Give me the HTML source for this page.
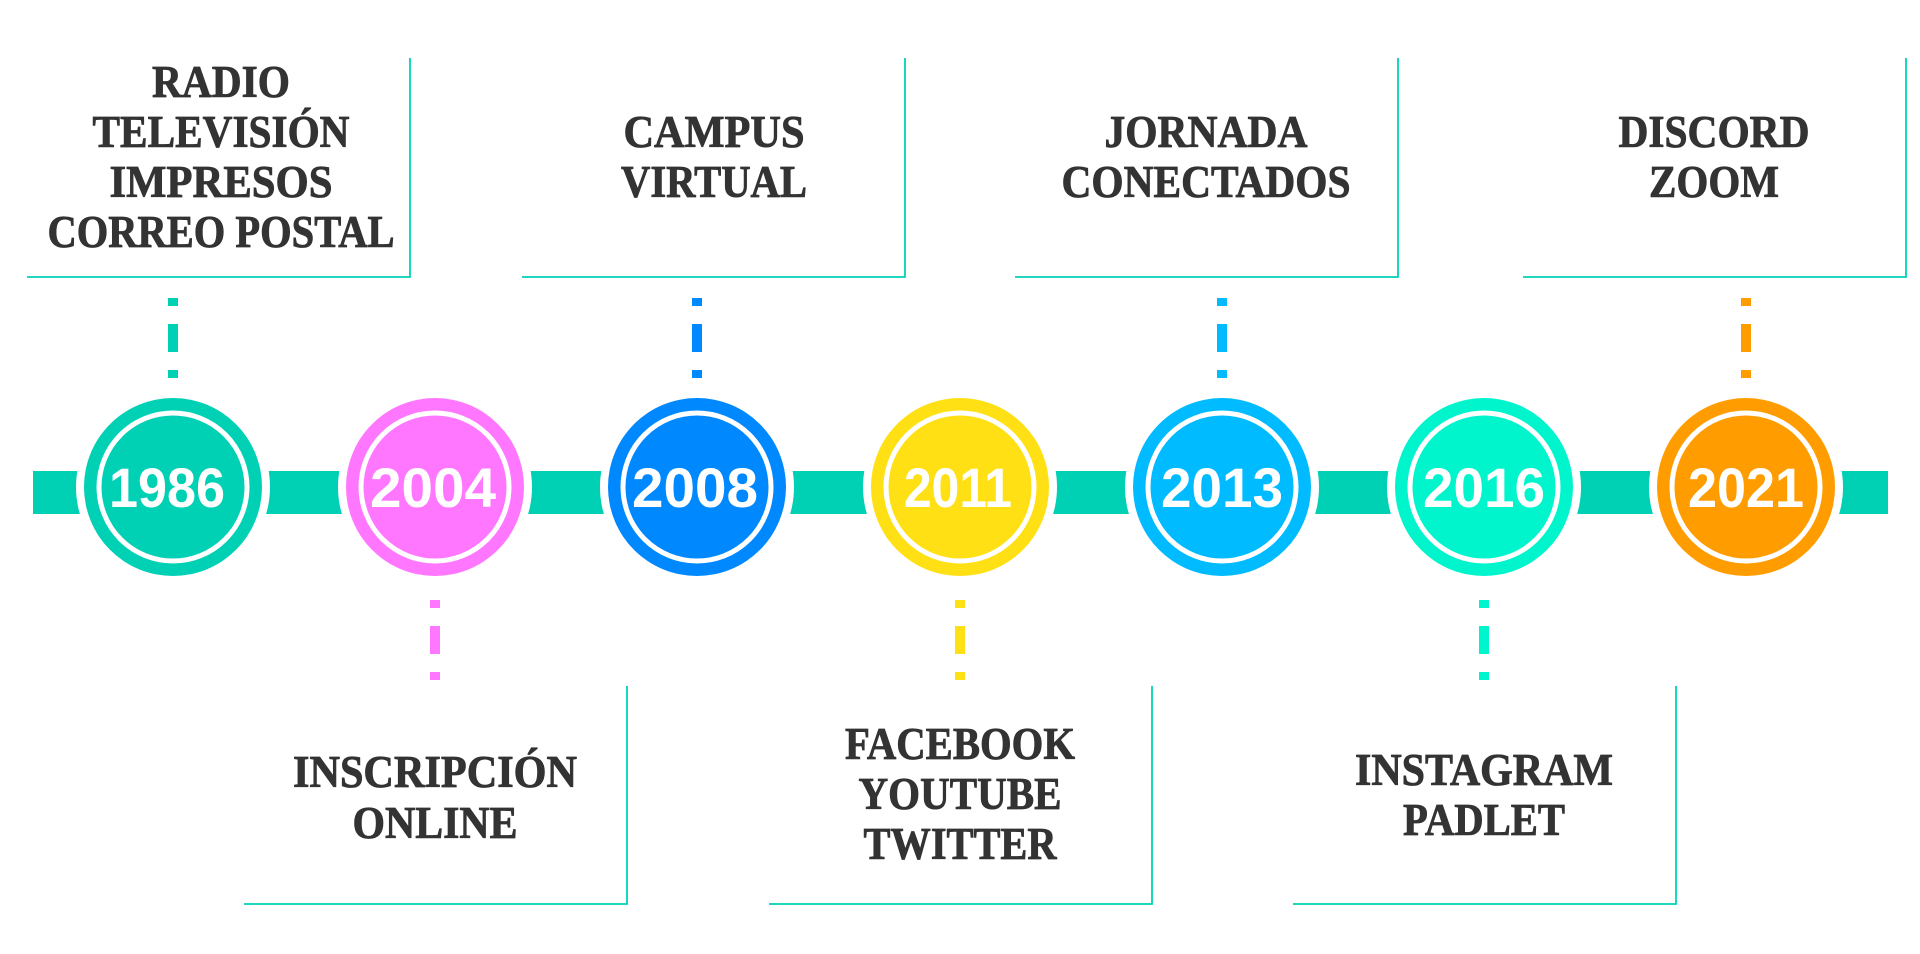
<!DOCTYPE html>
<html><head><meta charset="utf-8"><style>html,body{margin:0;padding:0;background:#fff}svg{display:block}</style></head>
<body>
<svg width="1920" height="954" viewBox="0 0 1920 954" xmlns="http://www.w3.org/2000/svg">
<rect x="33" y="471" width="1855" height="43" fill="#00d1b5"/>
<g fill="none" stroke="#00d1b5" stroke-width="1.8">
<polyline points="27,277 410,277 410,58"/>
<polyline points="522,277 905,277 905,58"/>
<polyline points="1015,277 1398,277 1398,58"/>
<polyline points="1523,277 1906,277 1906,58"/>
<polyline points="244,904 627,904 627,686"/>
<polyline points="769,904 1152,904 1152,686"/>
<polyline points="1293,904 1676,904 1676,686"/>
</g>
<g stroke-width="10" stroke-dasharray="8 18 28 18 8 100">
<line x1="173" y1="298" x2="173" y2="381" stroke="#00d1b5"/>
<line x1="697" y1="298" x2="697" y2="381" stroke="#0088ff"/>
<line x1="1222" y1="298" x2="1222" y2="381" stroke="#00bbff"/>
<line x1="1746" y1="298" x2="1746" y2="381" stroke="#ff9d00"/>
<line x1="435" y1="600" x2="435" y2="682" stroke="#ff77ff"/>
<line x1="960" y1="600" x2="960" y2="682" stroke="#ffe014"/>
<line x1="1484" y1="600" x2="1484" y2="682" stroke="#00f5cc"/>
</g>
<g font-family="Liberation Sans, sans-serif" font-weight="bold" font-size="56" fill="#fff" text-anchor="middle">
<g><circle cx="173" cy="487" r="97" fill="#fff"/><circle cx="173" cy="487" r="89" fill="#00d1b5"/><circle cx="173" cy="487" r="74" fill="none" stroke="#fff" stroke-width="5"/><text x="167" y="507" textLength="116" lengthAdjust="spacingAndGlyphs">1986</text></g>
<g><circle cx="435" cy="487" r="97" fill="#fff"/><circle cx="435" cy="487" r="89" fill="#ff77ff"/><circle cx="435" cy="487" r="74" fill="none" stroke="#fff" stroke-width="5"/><text x="433" y="507" textLength="126" lengthAdjust="spacingAndGlyphs">2004</text></g>
<g><circle cx="697" cy="487" r="97" fill="#fff"/><circle cx="697" cy="487" r="89" fill="#0088ff"/><circle cx="697" cy="487" r="74" fill="none" stroke="#fff" stroke-width="5"/><text x="695" y="507" textLength="126" lengthAdjust="spacingAndGlyphs">2008</text></g>
<g><circle cx="960" cy="487" r="97" fill="#fff"/><circle cx="960" cy="487" r="89" fill="#ffe014"/><circle cx="960" cy="487" r="74" fill="none" stroke="#fff" stroke-width="5"/><text x="958" y="507" textLength="108" lengthAdjust="spacingAndGlyphs">2011</text></g>
<g><circle cx="1222" cy="487" r="97" fill="#fff"/><circle cx="1222" cy="487" r="89" fill="#00bbff"/><circle cx="1222" cy="487" r="74" fill="none" stroke="#fff" stroke-width="5"/><text x="1222" y="507" textLength="122" lengthAdjust="spacingAndGlyphs">2013</text></g>
<g><circle cx="1484" cy="487" r="97" fill="#fff"/><circle cx="1484" cy="487" r="89" fill="#00f5cc"/><circle cx="1484" cy="487" r="74" fill="none" stroke="#fff" stroke-width="5"/><text x="1484" y="507" textLength="122" lengthAdjust="spacingAndGlyphs">2016</text></g>
<g><circle cx="1746" cy="487" r="97" fill="#fff"/><circle cx="1746" cy="487" r="89" fill="#ff9d00"/><circle cx="1746" cy="487" r="74" fill="none" stroke="#fff" stroke-width="5"/><text x="1746" y="507" textLength="116" lengthAdjust="spacingAndGlyphs">2021</text></g>
</g>
<g font-family="Liberation Serif, serif" font-weight="bold" font-size="45" fill="#333" stroke="#333" stroke-width="0.8" text-anchor="middle">
<text x="221" y="97" textLength="138" lengthAdjust="spacingAndGlyphs">RADIO</text>
<text x="221" y="147" textLength="257" lengthAdjust="spacingAndGlyphs">TELEVISIÓN</text>
<text x="221" y="197" textLength="223" lengthAdjust="spacingAndGlyphs">IMPRESOS</text>
<text x="221" y="247" textLength="347" lengthAdjust="spacingAndGlyphs">CORREO POSTAL</text>
<text x="714" y="147" textLength="181" lengthAdjust="spacingAndGlyphs">CAMPUS</text>
<text x="714" y="197" textLength="186" lengthAdjust="spacingAndGlyphs">VIRTUAL</text>
<text x="1206" y="147" textLength="203" lengthAdjust="spacingAndGlyphs">JORNADA</text>
<text x="1206" y="197" textLength="289" lengthAdjust="spacingAndGlyphs">CONECTADOS</text>
<text x="1714" y="147" textLength="191" lengthAdjust="spacingAndGlyphs">DISCORD</text>
<text x="1714" y="197" textLength="130" lengthAdjust="spacingAndGlyphs">ZOOM</text>
<text x="435" y="787" textLength="284" lengthAdjust="spacingAndGlyphs">INSCRIPCIÓN</text>
<text x="435" y="838" textLength="165" lengthAdjust="spacingAndGlyphs">ONLINE</text>
<text x="960" y="759" textLength="230" lengthAdjust="spacingAndGlyphs">FACEBOOK</text>
<text x="960" y="809" textLength="203" lengthAdjust="spacingAndGlyphs">YOUTUBE</text>
<text x="960" y="859" textLength="193" lengthAdjust="spacingAndGlyphs">TWITTER</text>
<text x="1484" y="785" textLength="258" lengthAdjust="spacingAndGlyphs">INSTAGRAM</text>
<text x="1484" y="835" textLength="162" lengthAdjust="spacingAndGlyphs">PADLET</text>
</g>
</svg>
</body></html>
